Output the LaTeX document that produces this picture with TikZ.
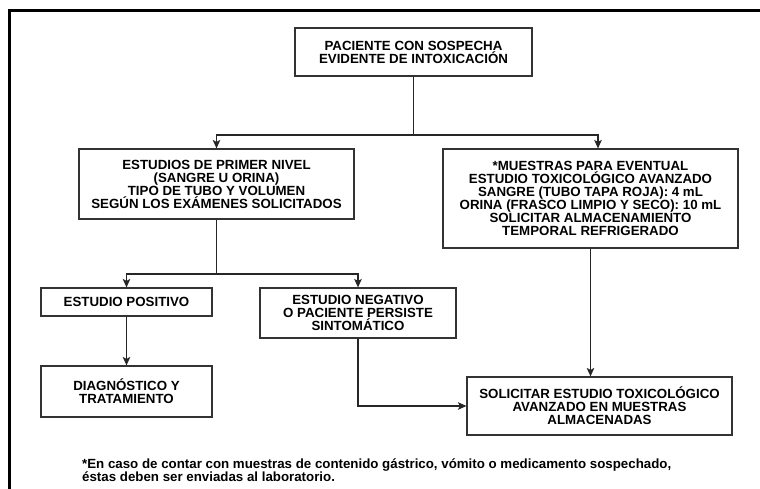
\documentclass[tikz,border=0pt]{standalone}
\usepackage{fontspec}
\setmainfont{Liberation Sans}
\usepackage{tikz}
\usetikzlibrary{positioning,arrows.meta}

\begin{document}
\begin{tikzpicture}[x=1pt,y=-1pt,
  box/.style={draw=black!80,line width=1.1pt,align=center,inner sep=0pt,
    font=\fontsize{13.3}{13}\selectfont\bfseries},
  arr/.style={line width=1.7pt,draw=black!85,-{Stealth[length=8.5pt,width=7.5pt,inset=2pt]}},
  lin/.style={line width=1.7pt,draw=black!85}]
  \useasboundingbox (0,0) rectangle (760,489);
  \draw[line width=3pt] (9,489) -- (9,10.5) -- (760,10.5);

  % boxes
  \node[box,minimum width=237pt,minimum height=48pt] (pac) at (413.5,52)
    {PACIENTE CON SOSPECHA\\EVIDENTE DE INTOXICACIÓN};
  \node[box,minimum width=275pt,minimum height=70pt] (prim) at (216.5,184)
    {ESTUDIOS DE PRIMER NIVEL\\(SANGRE U ORINA)\\TIPO DE TUBO Y VOLUMEN\\SEGÚN LOS EXÁMENES SOLICITADOS};
  \node[box,minimum width=295pt,minimum height=99pt] (mues) at (590.5,198.5)
    {*MUESTRAS PARA EVENTUAL\\ESTUDIO TOXICOLÓGICO AVANZADO\\SANGRE (TUBO TAPA ROJA): 4 mL\\ORINA (FRASCO LIMPIO Y SECO): 10 mL\\SOLICITAR ALMACENAMIENTO\\TEMPORAL REFRIGERADO};
  \node[box,minimum width=171pt,minimum height=28pt] (pos) at (126.5,302)
    {ESTUDIO POSITIVO};
  \node[box,minimum width=171pt,minimum height=51pt] (diag) at (126.5,391.5)
    {DIAGNÓSTICO Y\\TRATAMIENTO};
  \node[box,minimum width=196pt,minimum height=50pt] (neg) at (358,313)
    {ESTUDIO NEGATIVO\\O PACIENTE PERSISTE\\SINTOMÁTICO};
  \node[box,minimum width=265pt,minimum height=58pt] (sol) at (599.5,406)
    {SOLICITAR ESTUDIO TOXICOLÓGICO\\AVANZADO EN MUESTRAS\\ALMACENADAS};

  % connectors
  \coordinate (s1) at (413.5,135);
  \coordinate (s2) at (216.5,274);
  \draw[lin] (pac) -- (s1);
  \draw[arr] (s1) -| (prim.north);
  \draw[arr] (s1) -| ([xshift=7.5pt]mues.north);
  \draw[lin] (prim) -- (s2);
  \draw[arr] (s2) -| (pos.north);
  \draw[arr] (s2) -| (neg.north);
  \draw[arr] (pos) -- (diag);
  \draw[arr] (neg.south) |- (sol.west);
  \draw[arr] (mues.south) -- (mues.south |- sol.north);

  \node[anchor=west,align=left,inner sep=0pt,
    font=\fontsize{13.3}{12.5}\selectfont\bfseries] (nota) at (82,470)
    {*En caso de contar con muestras de contenido gástrico, vómito o medicamento sospechado,\\éstas deben ser enviadas al laboratorio.};
\end{tikzpicture}
\end{document}
